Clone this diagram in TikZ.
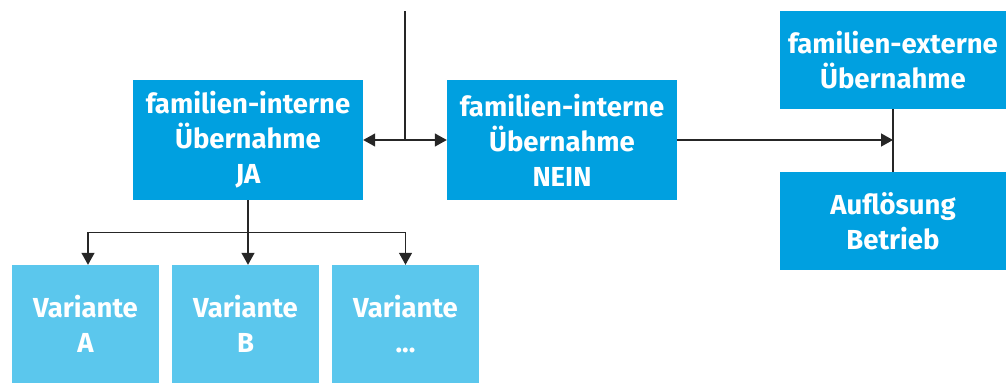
\documentclass[tikz,border=0pt]{standalone}
\usepackage{fontspec}
\setmainfont{Fira Sans}
\usetikzlibrary{calc, arrows.meta}
\definecolor{darkblue}{RGB}{0,160,224}
\definecolor{lightblue}{RGB}{91,199,237}

\begin{document}
\begin{tikzpicture}[x=1pt, y=-1pt]

    \tikzstyle{box}=[fill=darkblue, text=white, font=\bfseries\fontsize{27.5}{35}\selectfont, align=center, inner sep=0pt];
    \tikzstyle{variant}=[box, fill=lightblue, minimum width=147pt, minimum height=118pt];
    \tikzstyle{conn}=[line width=1.3pt, draw=black!85, >={Triangle[length=12pt, width=13pt]}];

    \useasboundingbox (0,0) rectangle (1006,383);

    \node[box, minimum width=230pt, minimum height=120pt] (ja) at (248,140) {familien-interne\\Übernahme\\JA};
    \node[box, minimum width=230pt, minimum height=120pt] (nein) at ($(ja)+(314,0)$) {familien-interne\\Übernahme\\NEIN};
    \node[box, minimum width=226pt, minimum height=98pt] (extern) at (893,60) {familien-externe\\Übernahme};
    \node[box, minimum width=226pt, minimum height=98pt] (aufl) at ($(extern)+(0,161)$) {Auflösung\\Betrieb};

    \node[variant] (varA) at (85.5,324) {Variante\\A};
    \node[variant] (varB) at ($(varA)+(160,0)$) {Variante\\B};
    \node[variant] (varC) at ($(varB)+(160,0)$) {Variante\\...};

    \coordinate (top) at (405,11);
    \coordinate (mid) at (405,140);
    \coordinate (split) at ($(ja.south)+(0,32)$);
    \coordinate (hit) at (893,140);

    \draw[conn] (top) -- (mid);
    \draw[conn, <->] (ja) -- (nein);
    \draw[conn, ->] (nein) -- (hit);
    \draw[conn] (extern) -- (aufl);

    \draw[conn, ->] (ja.south) -- (ja.south |- varB.north);
    \draw[conn, ->] (split) -| ($(varA.north)+(2.5,0)$);
    \draw[conn, ->] (split) -| (varC.north);

\end{tikzpicture}
\end{document}
